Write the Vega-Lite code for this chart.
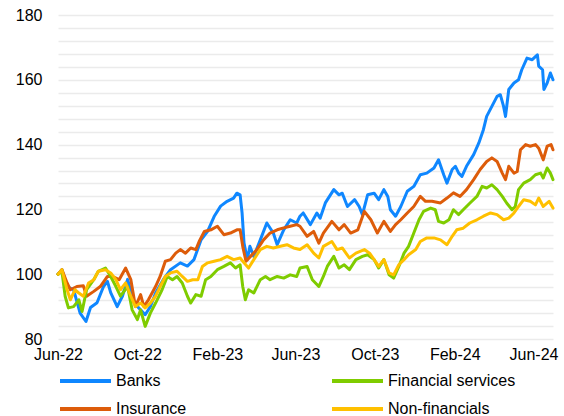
{
  "$schema": "https://vega.github.io/schema/vega-lite/v6.json",
  "autosize": {"type": "none"},
  "width": 495,
  "height": 324,
  "padding": {"left": 58, "top": 15, "right": 11, "bottom": 77},
  "config": {
    "view": {"stroke": null},
    "font": "Liberation Sans",
    "axis": {"labelFont": "Liberation Sans", "labelColor": "#000000", "labelFontSize": 16}
  },
  "data": {"values": [
    {"date":"2022-06-01","series":"Banks","value":100},
    {"date":"2022-06-07","series":"Banks","value":101.4},
    {"date":"2022-06-15","series":"Banks","value":96.2},
    {"date":"2022-06-25","series":"Banks","value":95.2},
    {"date":"2022-07-05","series":"Banks","value":88},
    {"date":"2022-07-14","series":"Banks","value":85.4},
    {"date":"2022-07-21","series":"Banks","value":89.7},
    {"date":"2022-07-31","series":"Banks","value":91.2},
    {"date":"2022-08-10","series":"Banks","value":96.2},
    {"date":"2022-08-16","series":"Banks","value":97.8},
    {"date":"2022-08-21","series":"Banks","value":94.3},
    {"date":"2022-08-31","series":"Banks","value":90},
    {"date":"2022-09-08","series":"Banks","value":93.2},
    {"date":"2022-09-16","series":"Banks","value":98.4},
    {"date":"2022-09-26","series":"Banks","value":91.1},
    {"date":"2022-10-06","series":"Banks","value":89},
    {"date":"2022-10-13","series":"Banks","value":87.5},
    {"date":"2022-10-21","series":"Banks","value":90},
    {"date":"2022-10-29","series":"Banks","value":94.2},
    {"date":"2022-11-10","series":"Banks","value":98.4},
    {"date":"2022-11-21","series":"Banks","value":101.4},
    {"date":"2022-12-06","series":"Banks","value":103.5},
    {"date":"2022-12-17","series":"Banks","value":102.5},
    {"date":"2022-12-27","series":"Banks","value":104.5},
    {"date":"2023-01-07","series":"Banks","value":110.6},
    {"date":"2023-01-17","series":"Banks","value":113.2},
    {"date":"2023-01-27","series":"Banks","value":117.8},
    {"date":"2023-02-06","series":"Banks","value":121},
    {"date":"2023-02-16","series":"Banks","value":122.5},
    {"date":"2023-02-26","series":"Banks","value":123.5},
    {"date":"2023-03-03","series":"Banks","value":125},
    {"date":"2023-03-08","series":"Banks","value":124.5},
    {"date":"2023-03-11","series":"Banks","value":118.9},
    {"date":"2023-03-14","series":"Banks","value":109.6},
    {"date":"2023-03-19","series":"Banks","value":104.5},
    {"date":"2023-03-23","series":"Banks","value":108.6},
    {"date":"2023-03-29","series":"Banks","value":105.5},
    {"date":"2023-04-08","series":"Banks","value":110.6},
    {"date":"2023-04-18","series":"Banks","value":115.8},
    {"date":"2023-04-28","series":"Banks","value":112.7},
    {"date":"2023-05-04","series":"Banks","value":109.1},
    {"date":"2023-05-14","series":"Banks","value":113.7},
    {"date":"2023-05-24","series":"Banks","value":116.8},
    {"date":"2023-06-03","series":"Banks","value":115.8},
    {"date":"2023-06-08","series":"Banks","value":117.9},
    {"date":"2023-06-13","series":"Banks","value":118.9},
    {"date":"2023-06-24","series":"Banks","value":115.3},
    {"date":"2023-07-04","series":"Banks","value":118.9},
    {"date":"2023-07-09","series":"Banks","value":117.3},
    {"date":"2023-07-17","series":"Banks","value":122},
    {"date":"2023-07-30","series":"Banks","value":126.1},
    {"date":"2023-08-07","series":"Banks","value":124.5},
    {"date":"2023-08-12","series":"Banks","value":125},
    {"date":"2023-08-20","series":"Banks","value":120.9},
    {"date":"2023-08-31","series":"Banks","value":123},
    {"date":"2023-09-07","series":"Banks","value":120.9},
    {"date":"2023-09-12","series":"Banks","value":118.4},
    {"date":"2023-09-20","series":"Banks","value":124.5},
    {"date":"2023-09-30","series":"Banks","value":125},
    {"date":"2023-10-07","series":"Banks","value":123},
    {"date":"2023-10-15","series":"Banks","value":126.1},
    {"date":"2023-10-21","series":"Banks","value":124},
    {"date":"2023-10-25","series":"Banks","value":119.9},
    {"date":"2023-11-02","series":"Banks","value":117.9},
    {"date":"2023-11-10","series":"Banks","value":120.9},
    {"date":"2023-11-20","series":"Banks","value":125.6},
    {"date":"2023-11-30","series":"Banks","value":127.1},
    {"date":"2023-12-10","series":"Banks","value":130.7},
    {"date":"2023-12-20","series":"Banks","value":131.2},
    {"date":"2023-12-31","series":"Banks","value":132.8},
    {"date":"2024-01-07","series":"Banks","value":135.3},
    {"date":"2024-01-15","series":"Banks","value":130.7},
    {"date":"2024-01-20","series":"Banks","value":128.1},
    {"date":"2024-01-28","series":"Banks","value":132.3},
    {"date":"2024-02-02","series":"Banks","value":133.3},
    {"date":"2024-02-07","series":"Banks","value":131.2},
    {"date":"2024-02-12","series":"Banks","value":130.2},
    {"date":"2024-02-19","series":"Banks","value":133.3},
    {"date":"2024-03-01","series":"Banks","value":136.9},
    {"date":"2024-03-09","series":"Banks","value":140.5},
    {"date":"2024-03-16","series":"Banks","value":144.6},
    {"date":"2024-03-21","series":"Banks","value":148.7},
    {"date":"2024-03-29","series":"Banks","value":151.8},
    {"date":"2024-04-06","series":"Banks","value":154.9},
    {"date":"2024-04-11","series":"Banks","value":155.4},
    {"date":"2024-04-16","series":"Banks","value":151.8},
    {"date":"2024-04-19","series":"Banks","value":148.7},
    {"date":"2024-04-24","series":"Banks","value":157},
    {"date":"2024-05-02","series":"Banks","value":159},
    {"date":"2024-05-09","series":"Banks","value":160},
    {"date":"2024-05-14","series":"Banks","value":163.1},
    {"date":"2024-05-22","series":"Banks","value":166.7},
    {"date":"2024-05-30","series":"Banks","value":166.2},
    {"date":"2024-06-07","series":"Banks","value":167.7},
    {"date":"2024-06-09","series":"Banks","value":164.2},
    {"date":"2024-06-15","series":"Banks","value":163.1},
    {"date":"2024-06-17","series":"Banks","value":157},
    {"date":"2024-06-22","series":"Banks","value":159},
    {"date":"2024-06-27","series":"Banks","value":162.1},
    {"date":"2024-07-01","series":"Banks","value":160},

    {"date":"2022-06-01","series":"Insurance","value":100},
    {"date":"2022-06-07","series":"Insurance","value":101.4},
    {"date":"2022-06-15","series":"Insurance","value":97.3},
    {"date":"2022-06-20","series":"Insurance","value":95.2},
    {"date":"2022-06-30","series":"Insurance","value":96.2},
    {"date":"2022-07-10","series":"Insurance","value":96.4},
    {"date":"2022-07-15","series":"Insurance","value":93.2},
    {"date":"2022-07-26","series":"Insurance","value":94.7},
    {"date":"2022-08-05","series":"Insurance","value":96.2},
    {"date":"2022-08-16","series":"Insurance","value":99.3},
    {"date":"2022-08-24","series":"Insurance","value":99.3},
    {"date":"2022-09-03","series":"Insurance","value":98.3},
    {"date":"2022-09-13","series":"Insurance","value":101.9},
    {"date":"2022-09-21","series":"Insurance","value":98.3},
    {"date":"2022-09-28","series":"Insurance","value":90},
    {"date":"2022-10-06","series":"Insurance","value":93.7},
    {"date":"2022-10-11","series":"Insurance","value":90},
    {"date":"2022-10-18","series":"Insurance","value":92.1},
    {"date":"2022-10-29","series":"Insurance","value":96.2},
    {"date":"2022-11-05","series":"Insurance","value":99.3},
    {"date":"2022-11-13","series":"Insurance","value":104},
    {"date":"2022-11-21","series":"Insurance","value":104.5},
    {"date":"2022-11-29","series":"Insurance","value":106.5},
    {"date":"2022-12-06","series":"Insurance","value":107.6},
    {"date":"2022-12-14","series":"Insurance","value":106.5},
    {"date":"2022-12-22","series":"Insurance","value":108.1},
    {"date":"2022-12-30","series":"Insurance","value":107.6},
    {"date":"2023-01-04","series":"Insurance","value":110.1},
    {"date":"2023-01-12","series":"Insurance","value":113.2},
    {"date":"2023-01-22","series":"Insurance","value":113.7},
    {"date":"2023-02-01","series":"Insurance","value":114.8},
    {"date":"2023-02-11","series":"Insurance","value":112.2},
    {"date":"2023-02-21","series":"Insurance","value":112.7},
    {"date":"2023-03-03","series":"Insurance","value":113.7},
    {"date":"2023-03-08","series":"Insurance","value":113.7},
    {"date":"2023-03-12","series":"Insurance","value":108.6},
    {"date":"2023-03-17","series":"Insurance","value":104},
    {"date":"2023-03-24","series":"Insurance","value":105.5},
    {"date":"2023-04-03","series":"Insurance","value":107.6},
    {"date":"2023-04-13","series":"Insurance","value":110.6},
    {"date":"2023-04-23","series":"Insurance","value":112.7},
    {"date":"2023-05-04","series":"Insurance","value":113.7},
    {"date":"2023-05-14","series":"Insurance","value":114.3},
    {"date":"2023-05-24","series":"Insurance","value":114.8},
    {"date":"2023-06-03","series":"Insurance","value":115.3},
    {"date":"2023-06-08","series":"Insurance","value":114.8},
    {"date":"2023-06-19","series":"Insurance","value":111.7},
    {"date":"2023-06-29","series":"Insurance","value":113.2},
    {"date":"2023-07-07","series":"Insurance","value":109.6},
    {"date":"2023-07-14","series":"Insurance","value":112.7},
    {"date":"2023-07-27","series":"Insurance","value":116.3},
    {"date":"2023-08-07","series":"Insurance","value":113.7},
    {"date":"2023-08-15","series":"Insurance","value":115.3},
    {"date":"2023-08-25","series":"Insurance","value":112.7},
    {"date":"2023-09-05","series":"Insurance","value":113.7},
    {"date":"2023-09-15","series":"Insurance","value":119.4},
    {"date":"2023-09-25","series":"Insurance","value":116.8},
    {"date":"2023-10-05","series":"Insurance","value":112.7},
    {"date":"2023-10-15","series":"Insurance","value":116.3},
    {"date":"2023-10-25","series":"Insurance","value":113.2},
    {"date":"2023-11-02","series":"Insurance","value":115.3},
    {"date":"2023-11-10","series":"Insurance","value":116.8},
    {"date":"2023-11-20","series":"Insurance","value":118.9},
    {"date":"2023-11-30","series":"Insurance","value":120.9},
    {"date":"2023-12-10","series":"Insurance","value":124},
    {"date":"2023-12-18","series":"Insurance","value":122.5},
    {"date":"2023-12-28","series":"Insurance","value":122.5},
    {"date":"2024-01-10","series":"Insurance","value":122},
    {"date":"2024-01-20","series":"Insurance","value":123.5},
    {"date":"2024-01-30","series":"Insurance","value":125.1},
    {"date":"2024-02-09","series":"Insurance","value":124},
    {"date":"2024-02-19","series":"Insurance","value":126.1},
    {"date":"2024-03-01","series":"Insurance","value":129.2},
    {"date":"2024-03-11","series":"Insurance","value":132.3},
    {"date":"2024-03-21","series":"Insurance","value":134.8},
    {"date":"2024-03-29","series":"Insurance","value":135.9},
    {"date":"2024-04-06","series":"Insurance","value":134.8},
    {"date":"2024-04-14","series":"Insurance","value":131.2},
    {"date":"2024-04-19","series":"Insurance","value":129.2},
    {"date":"2024-04-24","series":"Insurance","value":133.3},
    {"date":"2024-05-02","series":"Insurance","value":131.2},
    {"date":"2024-05-07","series":"Insurance","value":131.7},
    {"date":"2024-05-12","series":"Insurance","value":138.4},
    {"date":"2024-05-20","series":"Insurance","value":140},
    {"date":"2024-05-27","series":"Insurance","value":139.5},
    {"date":"2024-06-04","series":"Insurance","value":140},
    {"date":"2024-06-09","series":"Insurance","value":138.9},
    {"date":"2024-06-16","series":"Insurance","value":135.3},
    {"date":"2024-06-22","series":"Insurance","value":139.5},
    {"date":"2024-06-28","series":"Insurance","value":140},
    {"date":"2024-07-01","series":"Insurance","value":138.4},

    {"date":"2022-06-01","series":"Financial services","value":100},
    {"date":"2022-06-07","series":"Financial services","value":100.9},
    {"date":"2022-06-12","series":"Financial services","value":93.2},
    {"date":"2022-06-17","series":"Financial services","value":89.6},
    {"date":"2022-06-25","series":"Financial services","value":90},
    {"date":"2022-07-03","series":"Financial services","value":92.1},
    {"date":"2022-07-08","series":"Financial services","value":88.5},
    {"date":"2022-07-15","series":"Financial services","value":95.2},
    {"date":"2022-07-26","series":"Financial services","value":98.3},
    {"date":"2022-08-02","series":"Financial services","value":100.9},
    {"date":"2022-08-13","series":"Financial services","value":101.9},
    {"date":"2022-08-21","series":"Financial services","value":99.3},
    {"date":"2022-08-29","series":"Financial services","value":96.2},
    {"date":"2022-09-05","series":"Financial services","value":93.2},
    {"date":"2022-09-16","series":"Financial services","value":96.2},
    {"date":"2022-09-23","series":"Financial services","value":89},
    {"date":"2022-10-01","series":"Financial services","value":86},
    {"date":"2022-10-06","series":"Financial services","value":89},
    {"date":"2022-10-13","series":"Financial services","value":83.9},
    {"date":"2022-10-21","series":"Financial services","value":88},
    {"date":"2022-10-29","series":"Financial services","value":91.1},
    {"date":"2022-11-08","series":"Financial services","value":95.2},
    {"date":"2022-11-16","series":"Financial services","value":99.3},
    {"date":"2022-11-24","series":"Financial services","value":98.3},
    {"date":"2022-12-01","series":"Financial services","value":99.3},
    {"date":"2022-12-09","series":"Financial services","value":97.3},
    {"date":"2022-12-17","series":"Financial services","value":93.2},
    {"date":"2022-12-22","series":"Financial services","value":91.1},
    {"date":"2022-12-30","series":"Financial services","value":93.7},
    {"date":"2023-01-07","series":"Financial services","value":93.2},
    {"date":"2023-01-14","series":"Financial services","value":98.3},
    {"date":"2023-01-22","series":"Financial services","value":99.3},
    {"date":"2023-02-01","series":"Financial services","value":101.4},
    {"date":"2023-02-11","series":"Financial services","value":102.4},
    {"date":"2023-02-21","series":"Financial services","value":103.5},
    {"date":"2023-03-01","series":"Financial services","value":101.9},
    {"date":"2023-03-08","series":"Financial services","value":102.9},
    {"date":"2023-03-12","series":"Financial services","value":96.2},
    {"date":"2023-03-16","series":"Financial services","value":92.1},
    {"date":"2023-03-21","series":"Financial services","value":95.2},
    {"date":"2023-03-29","series":"Financial services","value":94.2},
    {"date":"2023-04-08","series":"Financial services","value":98.3},
    {"date":"2023-04-16","series":"Financial services","value":99.3},
    {"date":"2023-04-23","series":"Financial services","value":98.3},
    {"date":"2023-05-04","series":"Financial services","value":99.3},
    {"date":"2023-05-14","series":"Financial services","value":98.8},
    {"date":"2023-05-24","series":"Financial services","value":99.8},
    {"date":"2023-06-03","series":"Financial services","value":99.3},
    {"date":"2023-06-08","series":"Financial services","value":101.9},
    {"date":"2023-06-19","series":"Financial services","value":102.4},
    {"date":"2023-06-27","series":"Financial services","value":98.3},
    {"date":"2023-07-07","series":"Financial services","value":96.2},
    {"date":"2023-07-14","series":"Financial services","value":99.3},
    {"date":"2023-07-20","series":"Financial services","value":102.4},
    {"date":"2023-07-30","series":"Financial services","value":105.5},
    {"date":"2023-08-07","series":"Financial services","value":101.9},
    {"date":"2023-08-15","series":"Financial services","value":102.9},
    {"date":"2023-08-23","series":"Financial services","value":101.4},
    {"date":"2023-09-02","series":"Financial services","value":104.5},
    {"date":"2023-09-12","series":"Financial services","value":105.5},
    {"date":"2023-09-20","series":"Financial services","value":106},
    {"date":"2023-09-30","series":"Financial services","value":104.5},
    {"date":"2023-10-07","series":"Financial services","value":101.9},
    {"date":"2023-10-15","series":"Financial services","value":104.5},
    {"date":"2023-10-23","series":"Financial services","value":99.8},
    {"date":"2023-10-30","series":"Financial services","value":98.8},
    {"date":"2023-11-07","series":"Financial services","value":102.4},
    {"date":"2023-11-15","series":"Financial services","value":106.5},
    {"date":"2023-11-22","series":"Financial services","value":108.6},
    {"date":"2023-11-30","series":"Financial services","value":112.7},
    {"date":"2023-12-08","series":"Financial services","value":116.8},
    {"date":"2023-12-15","series":"Financial services","value":119.4},
    {"date":"2023-12-26","series":"Financial services","value":120.4},
    {"date":"2024-01-02","series":"Financial services","value":119.9},
    {"date":"2024-01-07","series":"Financial services","value":116.3},
    {"date":"2024-01-15","series":"Financial services","value":115.8},
    {"date":"2024-01-23","series":"Financial services","value":116.8},
    {"date":"2024-01-30","series":"Financial services","value":119.9},
    {"date":"2024-02-07","series":"Financial services","value":118.4},
    {"date":"2024-02-14","series":"Financial services","value":119.9},
    {"date":"2024-02-24","series":"Financial services","value":121.9},
    {"date":"2024-03-06","series":"Financial services","value":124},
    {"date":"2024-03-14","series":"Financial services","value":127.1},
    {"date":"2024-03-21","series":"Financial services","value":126.6},
    {"date":"2024-03-29","series":"Financial services","value":127.6},
    {"date":"2024-04-06","series":"Financial services","value":126.1},
    {"date":"2024-04-14","series":"Financial services","value":124},
    {"date":"2024-04-21","series":"Financial services","value":121.9},
    {"date":"2024-04-29","series":"Financial services","value":119.9},
    {"date":"2024-05-04","series":"Financial services","value":120.9},
    {"date":"2024-05-09","series":"Financial services","value":126.1},
    {"date":"2024-05-17","series":"Financial services","value":128.1},
    {"date":"2024-05-27","series":"Financial services","value":129.2},
    {"date":"2024-06-04","series":"Financial services","value":130.7},
    {"date":"2024-06-12","series":"Financial services","value":131.2},
    {"date":"2024-06-16","series":"Financial services","value":129.7},
    {"date":"2024-06-22","series":"Financial services","value":132.8},
    {"date":"2024-06-27","series":"Financial services","value":131.2},
    {"date":"2024-07-01","series":"Financial services","value":129.2},

    {"date":"2022-06-01","series":"Non-financials","value":100},
    {"date":"2022-06-07","series":"Non-financials","value":101.4},
    {"date":"2022-06-15","series":"Non-financials","value":95.2},
    {"date":"2022-06-20","series":"Non-financials","value":92.1},
    {"date":"2022-06-27","series":"Non-financials","value":95.2},
    {"date":"2022-07-03","series":"Non-financials","value":94.2},
    {"date":"2022-07-10","series":"Non-financials","value":93.2},
    {"date":"2022-07-18","series":"Non-financials","value":97.3},
    {"date":"2022-07-26","series":"Non-financials","value":98.3},
    {"date":"2022-08-02","series":"Non-financials","value":100.9},
    {"date":"2022-08-13","series":"Non-financials","value":101.4},
    {"date":"2022-08-21","series":"Non-financials","value":100.4},
    {"date":"2022-08-29","series":"Non-financials","value":98.3},
    {"date":"2022-09-05","series":"Non-financials","value":95.2},
    {"date":"2022-09-13","series":"Non-financials","value":97.3},
    {"date":"2022-09-21","series":"Non-financials","value":93.2},
    {"date":"2022-09-28","series":"Non-financials","value":90},
    {"date":"2022-10-06","series":"Non-financials","value":91.1},
    {"date":"2022-10-13","series":"Non-financials","value":89.6},
    {"date":"2022-10-21","series":"Non-financials","value":91.1},
    {"date":"2022-10-29","series":"Non-financials","value":93.2},
    {"date":"2022-11-05","series":"Non-financials","value":96.2},
    {"date":"2022-11-13","series":"Non-financials","value":99.3},
    {"date":"2022-11-21","series":"Non-financials","value":100.4},
    {"date":"2022-12-01","series":"Non-financials","value":100.9},
    {"date":"2022-12-09","series":"Non-financials","value":99.3},
    {"date":"2022-12-17","series":"Non-financials","value":97.8},
    {"date":"2022-12-25","series":"Non-financials","value":98.3},
    {"date":"2023-01-02","series":"Non-financials","value":98.3},
    {"date":"2023-01-09","series":"Non-financials","value":102.4},
    {"date":"2023-01-17","series":"Non-financials","value":103.5},
    {"date":"2023-01-27","series":"Non-financials","value":104},
    {"date":"2023-02-06","series":"Non-financials","value":104.5},
    {"date":"2023-02-16","series":"Non-financials","value":105.5},
    {"date":"2023-02-26","series":"Non-financials","value":104.5},
    {"date":"2023-03-08","series":"Non-financials","value":105},
    {"date":"2023-03-14","series":"Non-financials","value":103.5},
    {"date":"2023-03-21","series":"Non-financials","value":101.9},
    {"date":"2023-03-29","series":"Non-financials","value":104.5},
    {"date":"2023-04-08","series":"Non-financials","value":107.6},
    {"date":"2023-04-18","series":"Non-financials","value":108.6},
    {"date":"2023-04-28","series":"Non-financials","value":108.1},
    {"date":"2023-05-09","series":"Non-financials","value":108.6},
    {"date":"2023-05-19","series":"Non-financials","value":109.1},
    {"date":"2023-05-29","series":"Non-financials","value":108.1},
    {"date":"2023-06-08","series":"Non-financials","value":107.6},
    {"date":"2023-06-19","series":"Non-financials","value":109.1},
    {"date":"2023-06-29","series":"Non-financials","value":106.5},
    {"date":"2023-07-07","series":"Non-financials","value":105},
    {"date":"2023-07-14","series":"Non-financials","value":108.6},
    {"date":"2023-07-27","series":"Non-financials","value":110.1},
    {"date":"2023-08-04","series":"Non-financials","value":107.6},
    {"date":"2023-08-12","series":"Non-financials","value":108.1},
    {"date":"2023-08-23","series":"Non-financials","value":105},
    {"date":"2023-09-02","series":"Non-financials","value":106.5},
    {"date":"2023-09-15","series":"Non-financials","value":107.6},
    {"date":"2023-09-23","series":"Non-financials","value":106.5},
    {"date":"2023-09-30","series":"Non-financials","value":104.5},
    {"date":"2023-10-07","series":"Non-financials","value":102.4},
    {"date":"2023-10-15","series":"Non-financials","value":104.5},
    {"date":"2023-10-23","series":"Non-financials","value":100.4},
    {"date":"2023-10-30","series":"Non-financials","value":99.8},
    {"date":"2023-11-07","series":"Non-financials","value":102.9},
    {"date":"2023-11-15","series":"Non-financials","value":104.5},
    {"date":"2023-11-22","series":"Non-financials","value":106},
    {"date":"2023-12-03","series":"Non-financials","value":107.6},
    {"date":"2023-12-10","series":"Non-financials","value":110.1},
    {"date":"2023-12-20","series":"Non-financials","value":111.2},
    {"date":"2023-12-31","series":"Non-financials","value":111.2},
    {"date":"2024-01-10","series":"Non-financials","value":110.6},
    {"date":"2024-01-20","series":"Non-financials","value":109.1},
    {"date":"2024-01-28","series":"Non-financials","value":111.7},
    {"date":"2024-02-04","series":"Non-financials","value":113.7},
    {"date":"2024-02-14","series":"Non-financials","value":114.2},
    {"date":"2024-02-24","series":"Non-financials","value":115.8},
    {"date":"2024-03-06","series":"Non-financials","value":116.8},
    {"date":"2024-03-16","series":"Non-financials","value":117.9},
    {"date":"2024-03-27","series":"Non-financials","value":118.9},
    {"date":"2024-04-06","series":"Non-financials","value":118.4},
    {"date":"2024-04-16","series":"Non-financials","value":116.8},
    {"date":"2024-04-24","series":"Non-financials","value":117.3},
    {"date":"2024-05-02","series":"Non-financials","value":118.9},
    {"date":"2024-05-09","series":"Non-financials","value":120.9},
    {"date":"2024-05-17","series":"Non-financials","value":123},
    {"date":"2024-05-27","series":"Non-financials","value":122.5},
    {"date":"2024-06-04","series":"Non-financials","value":121.4},
    {"date":"2024-06-09","series":"Non-financials","value":123.5},
    {"date":"2024-06-16","series":"Non-financials","value":120.9},
    {"date":"2024-06-25","series":"Non-financials","value":122.5},
    {"date":"2024-07-01","series":"Non-financials","value":120.4}
  ]},
  "mark": {"type": "line", "strokeWidth": 3, "strokeJoin": "round", "strokeCap": "round"},
  "encoding": {
    "x": {
      "field": "date",
      "type": "temporal",
      "scale": {
        "type": "utc",
        "domain": [
          {"year": 2022, "month": 6, "date": 1, "utc": true},
          {"year": 2024, "month": 7, "date": 1, "utc": true}
        ]
      },
      "axis": {
        "title": null,
        "grid": false,
        "domain": false,
        "ticks": false,
        "tickSize": 0,
        "labelPadding": 7,
        "labelOverlap": false,
        "labelFlush": false,
        "format": "%b-%y",
        "values": [
          {"year": 2022, "month": 6, "date": 1, "utc": true},
          {"year": 2022, "month": 10, "date": 1, "utc": true},
          {"year": 2023, "month": 2, "date": 1, "utc": true},
          {"year": 2023, "month": 6, "date": 1, "utc": true},
          {"year": 2023, "month": 10, "date": 1, "utc": true},
          {"year": 2024, "month": 2, "date": 1, "utc": true},
          {"year": 2024, "month": 6, "date": 1, "utc": true}
        ]
      }
    },
    "y": {
      "field": "value",
      "type": "quantitative",
      "scale": {"domain": [80, 180], "nice": false, "zero": false},
      "axis": {
        "title": null,
        "domain": false,
        "ticks": false,
        "tickSize": 0,
        "labelPadding": 16,
        "labelOverlap": false,
        "gridColor": "#EBEBEB",
        "gridWidth": 1.5,
        "values": [80,84,88,92,96,100,104,108,112,116,120,124,128,132,136,140,144,148,152,156,160,164,168,172,176,180],
        "labelExpr": "datum.value % 20 === 0 ? datum.label : ''"
      }
    },
    "color": {
      "field": "series",
      "type": "nominal",
      "scale": {
        "domain": ["Banks", "Insurance", "Financial services", "Non-financials"],
        "range": ["#0F87FF", "#DD5C0A", "#7FCC00", "#FFC000"]
      },
      "legend": {
        "title": null,
        "orient": "none",
        "legendX": 0,
        "legendY": 358,
        "columns": 2,
        "columnPadding": 143,
        "rowPadding": 12,
        "padding": 0,
        "clipHeight": 16,
        "symbolType": "stroke",
        "symbolSize": 2601,
        "symbolStrokeWidth": 4,
        "labelFontSize": 16,
        "labelOffset": 3,
        "labelColor": "#000000",
        "labelFont": "Liberation Sans"
      }
    }
  }
}
